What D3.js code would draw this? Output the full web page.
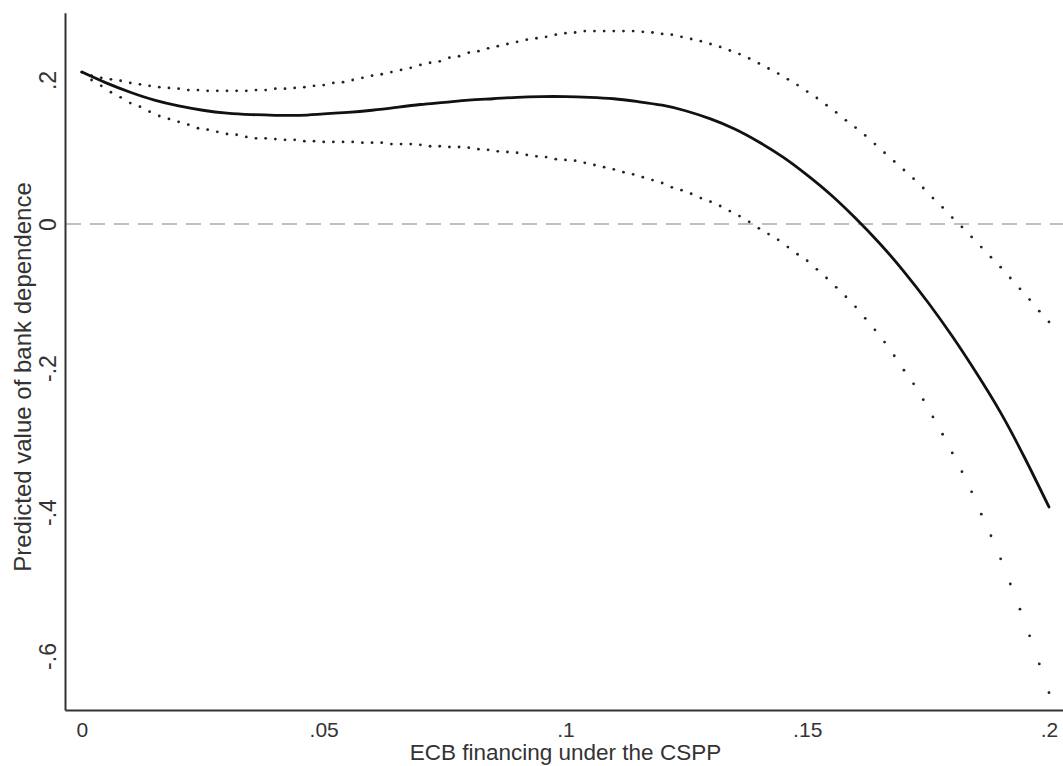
<!DOCTYPE html>
<html lang="en">
  <head>
    <meta charset="UTF-8" />
    <title>Predicted value of bank dependence</title>
    <style>
      body {
        margin: 0;
        background: #fff;
        overflow: hidden;
      }
      text {
        font-family: Arial, "Liberation Sans", sans-serif;
        fill: #333;
      }
      .domain {
        stroke: #333;
        stroke-width: 2px;
      }
    </style>
    <script src="https://unpkg.com/d3@7.8.1/dist/d3.min.js"></script>
  </head>
  <body>
    <script>
      const { select, scaleLinear, line, curveNatural, axisLeft, axisBottom } = d3;

      // fitted value, read every .005
      const fitX = [0, .005, .01, .015, .02, .025, .03, .035, .04, .045,
                    .05, .055, .06, .065, .07, .075, .08, .085, .09, .095,
                    .1, .105, .11, .115, .12, .125, .13, .135, .14, .145,
                    .15, .155, .16, .165, .17, .175, .18, .185, .19, .195, .2];
      const fitY = [.211, .196, .183, .172, .164, .158, .154, .152, .151, .151,
                    .153, .155, .158, .162, .166, .169, .172, .174, .176, .177,
                    .177, .176, .174, .170, .165, .157, .146, .132, .114, .093,
                    .068, .040, .008, -.027, -.066, -.109, -.156, -.207, -.262, -.325, -.393];

      // confidence bounds, one dot per grid point
      const bandX = [0, .002, .004, .006, .008, .01, .012, .014, .016, .018,
                     .02, .022, .024, .026, .028, .03, .032, .034, .036, .038,
                     .04, .042, .044, .046, .048, .05, .052, .054, .056, .058,
                     .06, .062, .064, .066, .068, .07, .072, .074, .076, .078,
                     .08, .082, .084, .086, .088, .09, .092, .094, .096, .098,
                     .1, .102, .104, .106, .108, .11, .112, .114, .116, .118,
                     .12, .122, .124, .126, .128, .13, .132, .134, .136, .138,
                     .14, .142, .144, .146, .148, .15, .152, .154, .156, .158,
                     .16, .162, .164, .166, .168, .17, .172, .174, .176, .178,
                     .18, .182, .184, .186, .188, .19, .192, .194, .196, .198, .2];
      const upperY = [.211, .206, .203, .201, .199, .196, .194, .192, .190, .189,
                      .188, .186, .186, .185, .185, .185, .185, .185, .186, .186,
                      .188, .188, .189, .190, .192, .193, .196, .197, .200, .203,
                      .206, .208, .211, .214, .217, .221, .224, .226, .231, .233,
                      .238, .240, .244, .247, .250, .253, .256, .258, .260, .263,
                      .265, .266, .268, .268, .268, .268, .268, .268, .267, .266,
                      .264, .263, .260, .257, .254, .250, .246, .241, .236, .230,
                      .223, .216, .209, .201, .193, .184, .175, .165, .155, .144,
                      .134, .123, .111, .099, .087, .075, .063, .050, .036, .023,
                      .009, -.004, -.018, -.032, -.046, -.060, -.075, -.090, -.105, -.121, -.136];
      const lowerY = [.211, .200, .192, .183, .176, .168, .163, .156, .150, .146,
                      .142, .138, .133, .131, .128, .125, .124, .121, .119, .119,
                      .118, .117, .117, .115, .115, .114, .114, .114, .114, .113,
                      .113, .113, .111, .111, .111, .110, .108, .108, .107, .107,
                      .106, .104, .103, .101, .100, .099, .096, .094, .093, .090,
                      .089, .088, .085, .082, .079, .076, .072, .069, .065, .061,
                      .057, .051, .047, .042, .036, .031, .025, .018, .011, .003,
                      -.006, -.014, -.022, -.032, -.042, -.051, -.063, -.075, -.088, -.101,
                      -.115, -.131, -.147, -.164, -.183, -.203, -.222, -.244, -.268, -.292,
                      -.318, -.344, -.372, -.403, -.433, -.465, -.500, -.535, -.572, -.611, -.651];

      const xTicks = [0, .05, .1, .15, .2];
      const xTickLabels = ["0", ".05", ".1", ".15", ".2"];
      const yTicks = [.2, 0, -.2, -.4, -.6];
      const yTickLabels = [".2", "0", "-.2", "-.4", "-.6"];

      const xTitle = "ECB financing under the CSPP";
      const yTitle = "Predicted value of bank dependence";

      const width = 1063;
      const height = 766;
      const margin = { top: 12.7, right: 0, bottom: 56, left: 65 };

      const svg = select("body")
        .append("svg")
        .attr("width", width)
        .attr("height", height);

      const x = scaleLinear()
        .domain([-0.0035, 0.2029])
        .range([margin.left, width - margin.right]);

      const y = scaleLinear()
        .domain([-0.675, 0.2935])
        .range([height - margin.bottom, margin.top]);

      // reference line at zero
      svg.append("line")
        .attr("x1", margin.left + 1)
        .attr("x2", width)
        .attr("y1", y(0))
        .attr("y2", y(0))
        .attr("stroke", "#aaa")
        .attr("stroke-width", 1.5)
        .attr("stroke-dasharray", "15,9");

      // dotted bounds
      const bounds = [upperY, lowerY];
      bounds.forEach(vals => {
        svg.append("g")
          .selectAll("circle")
          .data(bandX.map((d, i) => [d, vals[i]]))
          .enter()
          .append("circle")
          .attr("cx", d => x(d[0]))
          .attr("cy", d => y(d[1]))
          .attr("r", 1.4)
          .attr("fill", "#222");
      });

      // fitted line
      const fitLine = line()
        .x(d => x(d[0]))
        .y(d => y(d[1]))
        .curve(curveNatural);

      svg.append("path")
        .datum(fitX.map((d, i) => [d, fitY[i]]))
        .attr("d", fitLine)
        .attr("fill", "none")
        .attr("stroke", "#111")
        .attr("stroke-width", 2.8)
        .attr("stroke-linecap", "round");

      // axes
      const yAxis = svg.append("g")
        .attr("transform", `translate(${margin.left},0)`)
        .call(axisLeft(y)
          .tickValues(yTicks)
          .tickFormat((d, i) => yTickLabels[i])
          .tickSize(0)
          .tickSizeOuter(0));

      yAxis.selectAll(".tick text")
        .attr("x", 0)
        .attr("dy", 0)
        .attr("transform", "translate(-9,0) rotate(-90)")
        .attr("text-anchor", "middle")
        .style("font-size", "23px")
        .style("fill", "#333");

      const xAxis = svg.append("g")
        .attr("transform", `translate(0,${height - margin.bottom})`)
        .call(axisBottom(x)
          .tickValues(xTicks)
          .tickFormat((d, i) => xTickLabels[i])
          .tickSize(0)
          .tickSizeOuter(0));

      xAxis.selectAll(".tick text")
        .attr("y", 27)
        .attr("dy", 0)
        .style("font-size", "21px")
        .style("fill", "#333");

      svg.selectAll(".domain").attr("stroke", "#333");

      // titles
      svg.append("text")
        .attr("x", x(0.1))
        .attr("y", 760)
        .attr("text-anchor", "middle")
        .style("font-size", "22.5px")
        .text(xTitle);

      svg.append("text")
        .attr("transform", `translate(31,${(182 + 572) / 2}) rotate(-90)`)
        .attr("text-anchor", "middle")
        .style("font-size", "24px")
        .text(yTitle);
    </script>
  </body>
</html>
